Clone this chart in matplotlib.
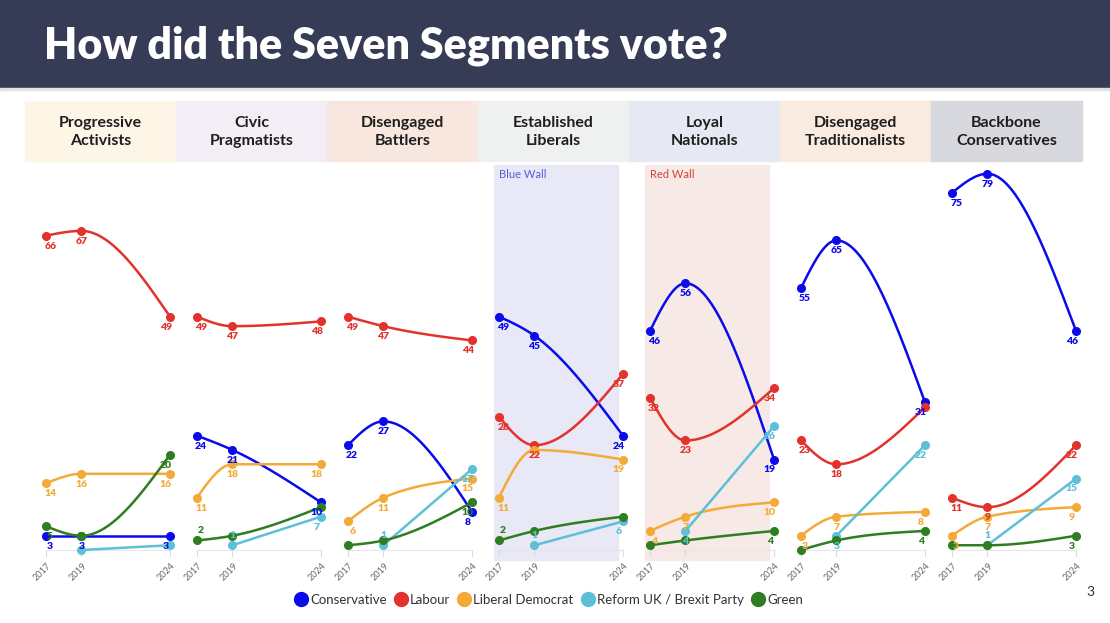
import numpy as np
import matplotlib.pyplot as plt
from matplotlib.patches import Rectangle
from matplotlib.lines import Line2D

plt.rcParams['font.family'] = ['Lato', 'DejaVu Sans']

years = [2017, 2019, 2024]
segments = ["Progressive\nActivists", "Civic\nPragmatists", "Disengaged\nBattlers",
            "Established\nLiberals", "Loyal\nNationals", "Disengaged\nTraditionalists",
            "Backbone\nConservatives"]
nan = np.nan
conservative = [[3, 3, 3], [24, 21, 10], [22, 27, 8], [49, 45, 24], [46, 56, 19], [55, 65, 31], [75, 79, 46]]
labour = [[66, 67, 49], [49, 47, 48], [49, 47, 44], [28, 22, 37], [32, 23, 34], [23, 18, 30], [11, 9, 22]]
libdem = [[14, 16, 16], [11, 18, 18], [6, 11, 15], [11, 21, 19], [4, 7, 10], [3, 7, 8], [3, 7, 9]]
reform = [[nan, 0, 1], [nan, 1, 7], [nan, 1, 17], [nan, 1, 6], [nan, 4, 26], [nan, 3, 22], [nan, 1, 15]]
green = [[5, 3, 20], [2, 3, 9], [1, 2, 10], [2, 4, 7], [1, 2, 4], [0, 2, 4], [1, 1, 3]]
parties = ["Conservative", "Labour", "Liberal Democrat", "Reform UK / Brexit Party", "Green"]

colors = ['#0a0aeb', '#e3322b', '#f4aa38', '#5bc0d8', '#2e7d20']
header_bg = ['#fdf5e6', '#f3eef6', '#f8e7de', '#eef1f0', '#e6e9f4', '#f9ebdf', '#d8d9df']

# where the value labels go: b = below, a = above, - = none
label_pos = [
    ["bbb", "bbb", "bbb", "---", "b-b"],
    ["bbb", "bbb", "bbb", "-ab", "a--"],
    ["bbb", "bbb", "bbb", "-ab", "--b"],
    ["bbb", "bbb", "b-b", "-ab", "a--"],
    ["bbb", "bbb", "bbb", "-bb", "--b"],
    ["bbb", "bb-", "bbb", "-bb", "--b"],
    ["bbb", "bbb", "bbb", "-ab", "--b"],
]

W, H = 1110, 623


def fx(px):
    return px / W


def fy(py):
    return 1 - py / H


def monotone(x, y, n=60):
    # monotone cubic like d3.curveMonotoneX
    x = np.asarray(x, float)
    y = np.asarray(y, float)
    if len(x) < 3:
        return x, y
    h = np.diff(x)
    s = np.diff(y) / h
    t = np.zeros(len(x))
    for i in range(1, len(x) - 1):
        p = (s[i - 1] * h[i] + s[i] * h[i - 1]) / (h[i - 1] + h[i])
        t[i] = (np.sign(s[i - 1]) + np.sign(s[i])) * min(abs(s[i - 1]), abs(s[i]), 0.5 * abs(p))
    t[0] = (3 * s[0] - t[1]) / 2
    t[-1] = (3 * s[-1] - t[-2]) / 2
    xs, ys = [], []
    for i in range(len(x) - 1):
        u = np.linspace(0, 1, n)
        h00 = 2 * u ** 3 - 3 * u ** 2 + 1
        h10 = u ** 3 - 2 * u ** 2 + u
        h01 = -2 * u ** 3 + 3 * u ** 2
        h11 = u ** 3 - u ** 2
        xs.append(x[i] + u * h[i])
        ys.append(h00 * y[i] + h10 * h[i] * t[i] + h01 * y[i + 1] + h11 * h[i] * t[i + 1])
    return np.concatenate(xs), np.concatenate(ys)


fig = plt.figure(figsize=(11.1, 6.23), dpi=100)

# banner
fig.patches.append(Rectangle((0, fy(88)), 1, 88 / H, transform=fig.transFigure, color='#363c56', zorder=-2))
fig.patches.append(Rectangle((0, fy(90)), 1, 2 / H, transform=fig.transFigure, color='#e2e2e2', zorder=-2))
fig.text(fx(44), fy(46), "How did the Seven Segments vote?", color='white', fontsize=31,
         fontweight='heavy', va='center', ha='left')

col_w = 151
for i, seg in enumerate(segments):
    left = 25 + col_w * i
    fig.patches.append(Rectangle((fx(left), fy(161)), col_w / W, 60 / H, transform=fig.transFigure,
                                 color=header_bg[i], zorder=-2))
    fig.text(fx(left + col_w / 2), fy(132), seg, ha='center', va='center', fontsize=11.5,
             fontweight='bold', color='#1e1e1e', linespacing=1.4)

    if i in (3, 4):
        band = '#e8e8f6' if i == 3 else '#f6e9e6'
        fig.patches.append(Rectangle((fx(left + 16), fy(560)), 124 / W, 395 / H, transform=fig.transFigure,
                                     color=band, zorder=-2))
        fig.text(fx(left + 21), fy(175), "Blue Wall" if i == 3 else "Red Wall",
                 color='#5a5ad8' if i == 3 else '#d0443a', fontsize=8, va='center', ha='left')

    ax = fig.add_axes([fx(left + 21), fy(550), 124 / W, 381 / H])
    ax.set_xlim(2017, 2024)
    ax.set_ylim(0, 80)
    ax.axis('off')
    ax.patch.set_alpha(0)
    ax.plot([2017, 2024], [0, 0], color='#e6e6e6', lw=0.8, clip_on=False, zorder=1)
    for yr in years:
        ax.plot([yr, yr], [0, -1.2], color='#dddddd', lw=0.8, clip_on=False, zorder=1)
        ax.annotate(str(yr), (yr, 0), xytext=(3, -10), textcoords='offset points', rotation=45,
                    ha='right', va='center', rotation_mode='anchor', fontsize=6.5, color='#666666',
                    annotation_clip=False)

    series = [conservative[i], labour[i], libdem[i], reform[i], green[i]]
    for p in [4, 3, 2, 1, 0]:
        vals = np.array(series[p], float)
        ok = ~np.isnan(vals)
        xv = np.array(years)[ok]
        yv = vals[ok]
        sx, sy = monotone(xv, yv)
        ax.plot(sx, sy, color=colors[p], lw=1.8, clip_on=False, zorder=3 + p * 0.1, solid_capstyle='round')
        ax.plot(xv, yv, 'o', color=colors[p], ms=5.5, clip_on=False, zorder=3 + p * 0.1)
        for k, yr in enumerate(years):
            pos = label_pos[i][p][k]
            if pos == '-' or np.isnan(vals[k]):
                continue
            dx = 3 if k == 0 else (-3 if k == 2 else 0)
            dy = -7.5 if pos == 'b' else 7
            ax.annotate(str(int(vals[k])), (yr, vals[k]), xytext=(dx, dy), textcoords='offset points',
                        ha='center', va='center', fontsize=7.5, fontweight='heavy', color=colors[p],
                        annotation_clip=False, zorder=6)

handles = [Line2D([], [], marker='o', ls='none', color=c, ms=10) for c in colors]
fig.legend(handles, parties, loc='center', bbox_to_anchor=(fx(548), fy(600)), ncol=5, frameon=False,
           fontsize=9.5, handletextpad=0.1, columnspacing=0.45, labelcolor='#333333', handlelength=1.2)

fig.text(fx(1090), fy(592), "3", fontsize=10, color='#333333', ha='center', va='center')

fig.savefig('out.png', dpi=100)
